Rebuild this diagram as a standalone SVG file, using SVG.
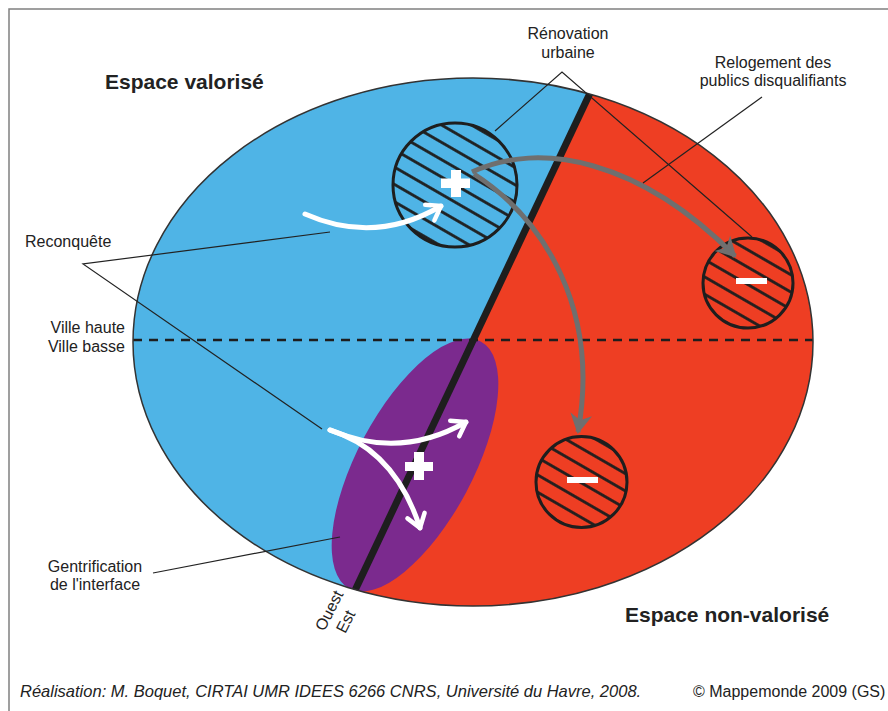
<svg xmlns="http://www.w3.org/2000/svg" width="888" height="711" viewBox="0 0 888 711">
<style>
text{font-family:"Liberation Sans",Arial,sans-serif;fill:#222;font-size:16px}
.title{font-weight:bold;font-size:21px}
.cap{font-style:italic;font-size:16.5px}
.leader{stroke:#222;stroke-width:1.2;fill:none}
.hc{stroke:#1e1e1e;stroke-width:3;fill:url(#hatch)}
.grey{stroke:#6f6f6f;stroke-width:5;fill:none;marker-end:url(#ag)}
.white{stroke:#fff;stroke-width:5;fill:none;stroke-linecap:round;marker-end:url(#aw)}
.sign{fill:#fff}
</style>
<defs>
<clipPath id="ell"><ellipse cx="473" cy="342" rx="340" ry="264"/></clipPath>
<pattern id="hatch" patternUnits="userSpaceOnUse" width="15" height="15" patternTransform="rotate(30)">
<line x1="0" y1="7.5" x2="15" y2="7.5" stroke="#1e1e1e" stroke-width="2.8"/>
</pattern>
<marker id="ag" markerUnits="userSpaceOnUse" markerWidth="30" markerHeight="30" orient="auto" overflow="visible">
<path d="M2,0 L-18,-11 L-12,0 L-18,11 Z" fill="#6f6f6f"/>
</marker>
<marker id="aw" markerUnits="userSpaceOnUse" markerWidth="30" markerHeight="30" orient="auto" overflow="visible">
<path d="M-13,-9 L0,0 L-13,9" fill="none" stroke="#fff" stroke-width="4.5" stroke-linecap="round" stroke-linejoin="round"/>
</marker>
</defs>

<rect width="888" height="711" fill="#fff"/>
<path d="M9,711 V9 H888" stroke="#808080" stroke-width="1.5" fill="none"/>

<g id="space" clip-path="url(#ell)">
<polygon id="zone-valorise" points="0,0 634,0 298,711 0,711" fill="#4fb4e6"/>
<polygon id="zone-non-valorise" points="634,0 888,0 888,711 298,711" fill="#ee3e23"/>
<ellipse id="interface" cx="415" cy="465" rx="140" ry="58" transform="rotate(-62 415 465)" fill="#7b2a8e"/>
<line id="ville-limit" x1="133" y1="340" x2="813" y2="340" stroke="#1e1e1e" stroke-width="2.5" stroke-dasharray="9 7"/>
<line id="divider" x1="634" y1="0" x2="298" y2="711" stroke="#1e1e1e" stroke-width="7"/>
</g>
<ellipse id="outline" cx="473" cy="342" rx="340" ry="264" fill="none" stroke="#333" stroke-width="1.5"/>

<g id="circle-renovation">
<circle class="hc" cx="455" cy="185" r="62"/>
<rect class="sign" x="441" y="178.5" width="29" height="9.5"/>
<rect class="sign" x="451" y="170" width="10" height="27"/>
</g>
<g id="circle-relog-1">
<circle class="hc" cx="748" cy="283" r="45"/>
<rect class="sign" x="736" y="278" width="31" height="6"/>
</g>
<g id="circle-relog-2">
<circle class="hc" cx="581.5" cy="482" r="45.5"/>
<rect class="sign" x="567" y="477" width="31" height="6"/>
</g>
<g id="plus-interface">
<rect class="sign" x="405" y="462" width="28" height="9"/>
<rect class="sign" x="414" y="452" width="10" height="28"/>
</g>

<g id="connectors">
<path class="grey" d="M472,172 C540,140 640,160 735,256"/>
<path class="grey" d="M474,174 C545,220 600,310 578,432"/>
<path class="white" d="M305,214 Q375,245 441,206"/>
<path class="white" d="M330,430 Q400,460 466,422"/>
<path class="white" d="M330,430 Q395,450 420,528"/>
<polyline class="leader" points="495,131 562,72 752,237"/>
<line class="leader" x1="762" y1="97" x2="643" y2="183"/>
<polyline class="leader" points="330,232 83,264 322,429"/>
<line class="leader" x1="153" y1="573" x2="340" y2="537"/>
</g>

<g id="labels">
<text class="title" x="105" y="89">Espace valorisé</text>
<text class="title" x="625" y="622">Espace non-valorisé</text>
<text x="568" y="39" text-anchor="middle">Rénovation</text>
<text x="568" y="58" text-anchor="middle">urbaine</text>
<text x="773" y="68" text-anchor="middle">Relogement des</text>
<text x="773" y="86" text-anchor="middle">publics disqualifiants</text>
<text x="25" y="247">Reconquête</text>
<text x="125" y="333" text-anchor="end">Ville haute</text>
<text x="125" y="352" text-anchor="end">Ville basse</text>
<text x="95" y="572" text-anchor="middle">Gentrification</text>
<text x="95" y="590" text-anchor="middle">de l'interface</text>
<text x="0" y="0" font-size="15" text-anchor="middle" transform="translate(334,613) rotate(-63)">Ouest</text>
<text x="0" y="0" font-size="15" text-anchor="middle" transform="translate(350.5,624) rotate(-63)">Est</text>
<text class="cap" x="20" y="697">Réalisation: M. Boquet, CIRTAI UMR IDEES 6266 CNRS, Université du Havre, 2008.</text>
<text x="693" y="697">© Mappemonde 2009 (GS)</text>
</g>
</svg>
